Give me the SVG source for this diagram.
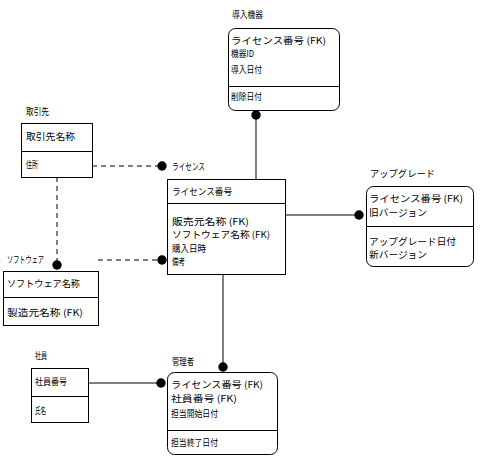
<svg xmlns="http://www.w3.org/2000/svg" width="482" height="457" viewBox="0 0 482 457">
<style>
text{font-family:"Noto Sans CJK JP","Noto Sans",sans-serif;font-size:9.5px;fill:#000}
.b{fill:#fff;stroke:#000;stroke-width:1}
.l{stroke:#000;stroke-width:1;fill:none}
.d{stroke:#000;stroke-width:1;fill:none;stroke-dasharray:5,4}
.dot{fill:#000}
</style>
<rect width="482" height="457" fill="#fff"/>
<g id="connectors">
<line class="l" x1="256" y1="115" x2="256" y2="179"/>
<line class="d" x1="92" y1="166" x2="162" y2="166"/>
<line class="d" x1="57" y1="177" x2="57" y2="265"/>
<line class="d" x1="98" y1="260" x2="162" y2="260"/>
<line class="l" x1="285" y1="215" x2="359" y2="215"/>
<line class="l" x1="88" y1="383" x2="161" y2="383"/>
<line class="l" x1="223" y1="274" x2="223" y2="367"/>
<circle class="dot" cx="256" cy="115" r="4.7"/>
<circle class="dot" cx="162" cy="166" r="4.7"/>
<circle class="dot" cx="57" cy="265" r="4.7"/>
<circle class="dot" cx="162" cy="260" r="4.7"/>
<circle class="dot" cx="359" cy="215" r="4.7"/>
<circle class="dot" cx="161" cy="383" r="4.7"/>
<circle class="dot" cx="223" cy="367" r="4.7"/>
<text x="172" y="170" textLength="33" lengthAdjust="spacingAndGlyphs">ライセンス</text>
</g>
<g id="dounyukiki">
<text x="232" y="18" textLength="31" lengthAdjust="spacingAndGlyphs">導入機器</text>
<rect class="b" x="228.5" y="28.5" width="111" height="82" rx="7"/>
<line class="l" x1="228.5" y1="86.5" x2="339.5" y2="86.5"/>
<text x="231" y="44" textLength="95" lengthAdjust="spacingAndGlyphs">ライセンス番号 (FK)</text>
<text x="231" y="57" textLength="23" lengthAdjust="spacingAndGlyphs">機器ID</text>
<text x="231" y="73" textLength="31" lengthAdjust="spacingAndGlyphs">導入日付</text>
<text x="231" y="100" textLength="31" lengthAdjust="spacingAndGlyphs">削除日付</text>
</g>
<g id="torihikisaki">
<text x="26" y="115" textLength="23" lengthAdjust="spacingAndGlyphs">取引先</text>
<rect class="b" x="21.5" y="123.5" width="71" height="54"/>
<line class="l" x1="21.5" y1="151.5" x2="92.5" y2="151.5"/>
<text x="26" y="140" textLength="49" lengthAdjust="spacingAndGlyphs">取引先名称</text>
<text x="26" y="168" textLength="12" lengthAdjust="spacingAndGlyphs">住所</text>
</g>
<g id="license">
<rect class="b" x="167.5" y="179.5" width="118" height="95"/>
<line class="l" x1="167.5" y1="203.5" x2="285.5" y2="203.5"/>
<text x="172" y="195" textLength="60" lengthAdjust="spacingAndGlyphs">ライセンス番号</text>
<text x="172" y="225" textLength="77" lengthAdjust="spacingAndGlyphs">販売元名称 (FK)</text>
<text x="172" y="238" textLength="98" lengthAdjust="spacingAndGlyphs">ソフトウェア名称 (FK)</text>
<text x="172" y="252" textLength="34" lengthAdjust="spacingAndGlyphs">購入日時</text>
<text x="172" y="265" textLength="13" lengthAdjust="spacingAndGlyphs">備考</text>
</g>
<g id="upgrade">
<text x="370" y="177" textLength="65" lengthAdjust="spacingAndGlyphs">アップグレード</text>
<rect class="b" x="366.5" y="186.5" width="107" height="80" rx="7"/>
<line class="l" x1="366.5" y1="226.5" x2="473.5" y2="226.5"/>
<text x="369" y="202" textLength="94" lengthAdjust="spacingAndGlyphs">ライセンス番号 (FK)</text>
<text x="369" y="216" textLength="58" lengthAdjust="spacingAndGlyphs">旧バージョン</text>
<text x="369" y="245" textLength="87" lengthAdjust="spacingAndGlyphs">アップグレード日付</text>
<text x="369" y="258" textLength="58" lengthAdjust="spacingAndGlyphs">新バージョン</text>
</g>
<g id="software">
<text x="7" y="263" textLength="37" lengthAdjust="spacingAndGlyphs">ソフトウェア</text>
<rect class="b" x="3.5" y="271.5" width="95" height="54"/>
<line class="l" x1="3.5" y1="297.5" x2="98.5" y2="297.5"/>
<text x="7" y="287" textLength="73" lengthAdjust="spacingAndGlyphs">ソフトウェア名称</text>
<text x="7" y="316" textLength="76" lengthAdjust="spacingAndGlyphs">製造元名称 (FK)</text>
</g>
<g id="shain">
<text x="35" y="359" textLength="12" lengthAdjust="spacingAndGlyphs">社員</text>
<rect class="b" x="31.5" y="368.5" width="57" height="54"/>
<line class="l" x1="31.5" y1="396.5" x2="88.5" y2="396.5"/>
<text x="35" y="385" textLength="32" lengthAdjust="spacingAndGlyphs">社員番号</text>
<text x="35" y="414" textLength="11" lengthAdjust="spacingAndGlyphs">氏名</text>
</g>
<g id="kanrisha">
<text x="172" y="365" textLength="22" lengthAdjust="spacingAndGlyphs">管理者</text>
<rect class="b" x="167.5" y="372.5" width="110" height="82" rx="7"/>
<line class="l" x1="167.5" y1="430.5" x2="277.5" y2="430.5"/>
<text x="171" y="388" textLength="92" lengthAdjust="spacingAndGlyphs">ライセンス番号 (FK)</text>
<text x="171" y="402" textLength="66" lengthAdjust="spacingAndGlyphs">社員番号 (FK)</text>
<text x="171" y="417" textLength="47" lengthAdjust="spacingAndGlyphs">担当開始日付</text>
<text x="171" y="446" textLength="47" lengthAdjust="spacingAndGlyphs">担当終了日付</text>
</g>
</svg>
